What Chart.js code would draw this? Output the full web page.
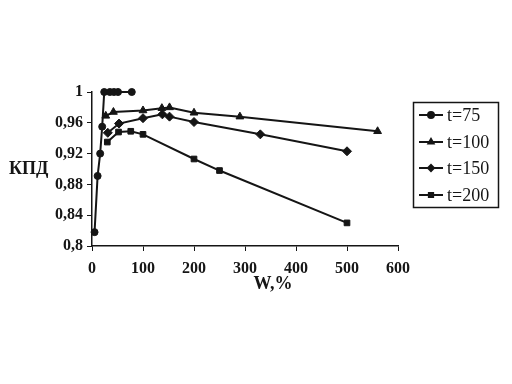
<!DOCTYPE html>
<html>
<head>
<meta charset="utf-8">
<script src="https://cdn.jsdelivr.net/npm/chart.js@4"></script>
<style>
  html, body { margin: 0; padding: 0; background: #fff; }
  #wrap { width: 512px; height: 384px; }
</style>
</head>
<body>
<div id="wrap"><canvas id="c" width="512" height="384"></canvas></div>
<script>
// series
const w75 = [5, 11, 16, 20, 24, 35, 43, 51, 78];
const k75 = [0.818, 0.891, 0.920, 0.955, 1, 1, 1, 1, 1];
const w100 = [27, 42, 100, 137, 152, 200, 290, 560];
const k100 = [0.969, 0.974, 0.976, 0.979, 0.980, 0.973, 0.968, 0.949];
const w150 = [31, 53, 100, 138, 152, 200, 330, 500];
const k150 = [0.947, 0.959, 0.966, 0.971, 0.968, 0.961, 0.945, 0.923];
const w200 = [30, 52, 76, 100, 200, 250, 500];
const k200 = [0.935, 0.948, 0.949, 0.945, 0.913, 0.898, 0.830];
const seriesNames = ['t=75', 't=100', 't=150', 't=200'];
const markers = ['circle', 'triangle', 'rectRot', 'rect'];

const ink = '#151515';

function pts(xs, ys) {
  return xs.map((x, i) => ({ x: x, y: ys[i] }));
}

const sizes = [3.5, 4.5, 4.5, 4];
const datasets = [pts(w75, k75), pts(w100, k100), pts(w150, k150), pts(w200, k200)].map((d, i) => ({
  label: seriesNames[i],
  data: d,
  showLine: true,
  borderColor: ink,
  backgroundColor: ink,
  borderWidth: 2,
  pointStyle: markers[i],
  pointRadius: sizes[i],
  pointBorderWidth: 1,
  pointBackgroundColor: ink,
  pointBorderColor: ink,
  clip: false
}));

// legend box + horizontal axis titles
const extras = {
  id: 'extras',
  afterDraw(chart) {
    const ctx = chart.ctx;
    ctx.save();
    ctx.fillStyle = ink;
    ctx.strokeStyle = ink;
    ctx.font = 'bold 18px "Liberation Serif"';
    ctx.textBaseline = 'middle';
    ctx.textAlign = 'left';
    ctx.fillText('КПД', 9, 169);
    ctx.textAlign = 'center';
    ctx.fillText('W,%', 273, 284);

    ctx.lineWidth = 1.5;
    ctx.strokeRect(413.5, 102.5, 85, 105);
    ctx.font = '18px "Liberation Serif"';
    ctx.textAlign = 'left';
    const rows = [115, 142, 168, 195];
    chart.data.datasets.forEach((ds, i) => {
      const y = rows[i];
      ctx.lineWidth = 2;
      ctx.beginPath();
      ctx.moveTo(419, y);
      ctx.lineTo(443, y);
      ctx.stroke();
      Chart.helpers.drawPoint(ctx, { pointStyle: ds.pointStyle, radius: 3, rotation: 0, borderWidth: 1 }, 431, y);
      ctx.fillStyle = ink;
      ctx.fillText(ds.label, 447, y + 1);
    });
    ctx.restore();
  }
};

new Chart(document.getElementById('c'), {
  type: 'scatter',
  data: { datasets: datasets },
  options: {
    responsive: false,
    animation: false,
    layout: { padding: { left: 0, top: 92, right: 114, bottom: 0 } },
    plugins: { legend: { display: false }, tooltip: { enabled: false } },
    scales: {
      x: {
        type: 'linear',
        min: 0, max: 600,
        afterFit(s) { s.height = 138; },
        border: { color: ink, width: 1.5 },
        grid: { drawOnChartArea: false, color: ink, tickLength: 5, lineWidth: 1 },
        ticks: { stepSize: 100, color: ink, padding: 8, font: { family: 'Liberation Serif', size: 16, weight: 'bold' } }
      },
      y: {
        min: 0.8, max: 1,
        afterFit(s) { s.width = 92; },
        border: { color: ink, width: 1.5 },
        grid: { drawOnChartArea: false, color: ink, tickLength: 5, lineWidth: 1 },
        ticks: {
          stepSize: 0.04, color: ink, padding: 4,
          font: { family: 'Liberation Serif', size: 16, weight: 'bold' },
          callback: v => String(Number(v.toFixed(2))).replace('.', ',')
        }
      }
    }
  },
  plugins: [extras]
});
</script>
</body>
</html>
